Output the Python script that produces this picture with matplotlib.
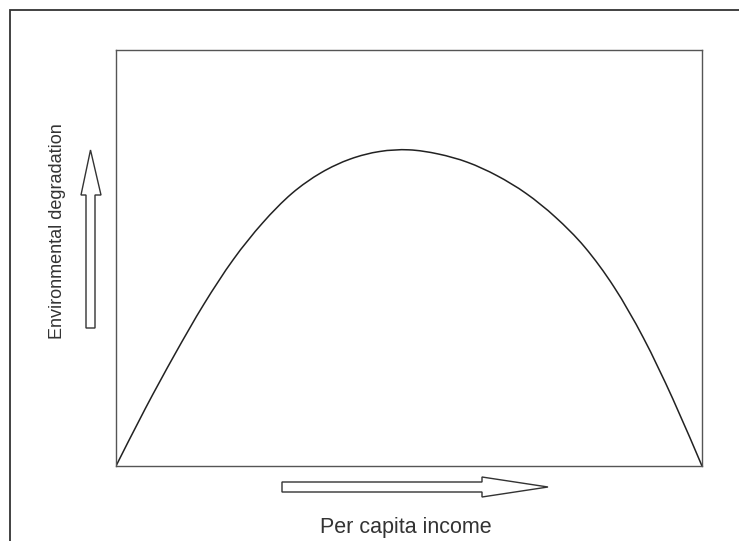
import matplotlib
matplotlib.use("Agg")
import matplotlib.pyplot as plt
from matplotlib.patches import Polygon, Rectangle, PathPatch
from matplotlib.path import Path

# Environmental Kuznets curve: degradation vs. per capita income (arbitrary units)
income = [0, 5, 10, 15, 20, 25, 30, 35, 40, 45, 50,
          55, 60, 65, 70, 75, 80, 85, 90, 95, 100]
degradation = [0, 13.8, 26.75, 38.9, 49.6, 58.4, 65.5, 70.5, 73.8, 75.6, 76.0,
               75.0, 73.0, 69.8, 65.5, 59.8, 52.6, 43.0, 30.8, 16.2, 0]

x_label = "Per capita income"
y_label = "Environmental degradation"

W, H = 739, 541
fig = plt.figure(figsize=(W / 100, H / 100), dpi=100)
fig.patch.set_facecolor("white")


def fx(px):
    return px / W


def fy(py):
    return 1 - py / H


def smooth_path(xs, ys):
    """Catmull-Rom curve through every point, expressed as cubic Bezier segments."""
    pts = list(zip(xs, ys))
    verts = [pts[0]]
    codes = [Path.MOVETO]
    n = len(pts)
    for i in range(n - 1):
        p0 = pts[i - 1] if i > 0 else pts[i]
        p1 = pts[i]
        p2 = pts[i + 1]
        p3 = pts[i + 2] if i + 2 < n else pts[i + 1]
        c1 = (p1[0] + (p2[0] - p0[0]) / 6, p1[1] + (p2[1] - p0[1]) / 6)
        c2 = (p2[0] - (p3[0] - p1[0]) / 6, p2[1] - (p3[1] - p1[1]) / 6)
        verts += [c1, c2, p2]
        codes += [Path.CURVE4] * 3
    return Path(verts, codes)


# Outer frame around the whole figure panel
fig.add_artist(Rectangle((fx(9.5), fy(560)), fx(760) - fx(9.5), fy(10) - fy(560),
                         transform=fig.transFigure, fill=False,
                         edgecolor="#333333", linewidth=1.3, clip_on=False))

ax = fig.add_axes([fx(116), fy(466), fx(702) - fx(116), fy(50) - fy(466)])
ax.add_patch(PathPatch(smooth_path(income, degradation), facecolor="none",
                       edgecolor="#222222", linewidth=1.1))
ax.set_xlim(0, 100)
ax.set_ylim(0, 100)
ax.set_xticks([])
ax.set_yticks([])
for sp in ax.spines.values():
    sp.set_color("#555555")
    sp.set_linewidth(1.0)

# Hollow arrows indicating direction of increase
h_arrow = [(282, 482), (482, 482), (482, 477), (548, 487), (482, 497), (482, 492), (282, 492)]
v_arrow = [(86, 328), (86, 195), (81, 195), (90.5, 150), (101, 195), (95, 195), (95, 328)]
for pts in (h_arrow, v_arrow):
    fig.add_artist(Polygon([(fx(a), fy(b)) for a, b in pts], closed=True,
                           transform=fig.transFigure, facecolor="white",
                           edgecolor="#333333", linewidth=1.0))

font = ["Liberation Sans", "DejaVu Sans"]
fig.text(fx(405.5), fy(527), x_label, ha="center", va="center",
         fontsize=15.5, color="#333333", family=font)
fig.text(fx(57.5), fy(231.5), y_label, ha="center", va="center", rotation=90,
         fontsize=13, color="#333333", family=font)

fig.savefig("out.png", dpi=100, facecolor="white")
